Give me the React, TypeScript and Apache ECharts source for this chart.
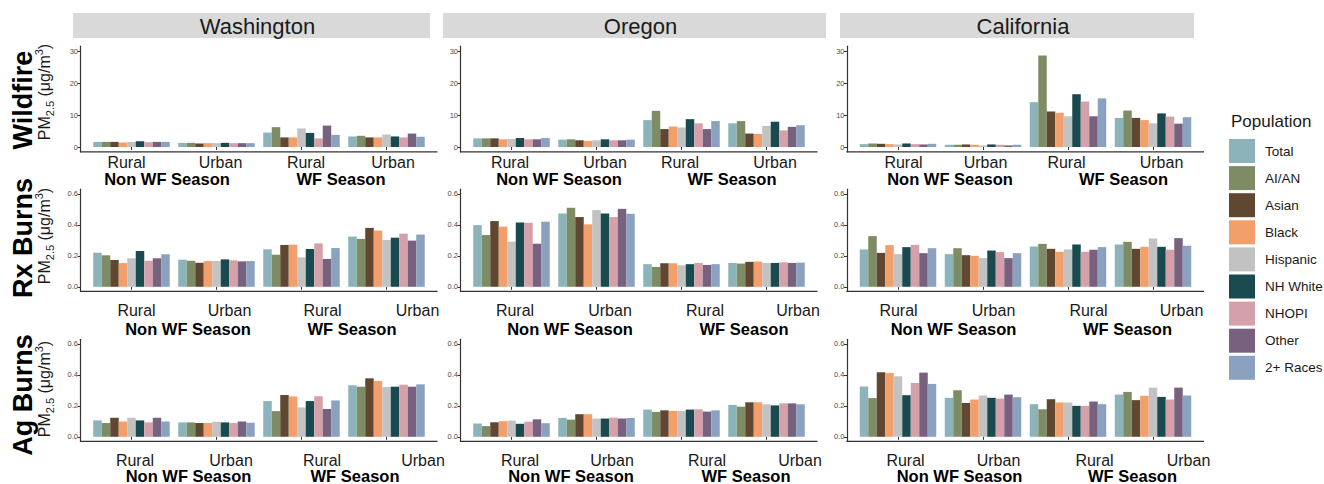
import React, { useEffect, useRef } from "react";
import * as echarts from "echarts";

const FONT = "'Liberation Sans', Arial, Helvetica, sans-serif";

// Facets
const states = ["Washington", "Oregon", "California"];
const sources = ["Wildfire", "Rx Burns", "Ag Burns"];
const groups = ["Rural", "Urban", "Rural", "Urban"];
const seasons = ["Non WF Season", "WF Season"];
const populations = ["Total", "AI/AN", "Asian", "Black", "Hispanic", "NH White", "NHOPI", "Other", "2+ Races"];
const popColors = ["#8db3ba", "#7e8c66", "#5f4731", "#f29f6c", "#c2c2c2", "#184a4f", "#d4a1aa", "#78607f", "#8aa1bf"];

const wildfireTicks = [0, 10, 20, 30];
const burnTicks = [0, 0.2, 0.4, 0.6];

// PM2.5 (µg/m3); each row is one population: [Rural Non WF, Urban Non WF, Rural WF, Urban WF]
const wildfireWashington = [
  [1.6, 1.3, 4.5, 3.3], [1.6, 1.3, 6.2, 3.5], [1.6, 1.1, 3.0, 3.0], [1.4, 1.2, 3.0, 3.0], [1.6, 1.2, 5.8, 3.9],
  [1.8, 1.3, 4.4, 3.3], [1.5, 1.2, 2.7, 3.0], [1.6, 1.2, 6.7, 4.2], [1.6, 1.2, 3.8, 3.2],
];
const wildfireOregon = [
  [2.7, 2.3, 8.4, 7.4], [2.7, 2.4, 11.3, 8.1], [2.7, 2.1, 5.6, 4.2], [2.4, 1.9, 6.4, 4.1], [2.5, 2.1, 6.1, 6.6],
  [2.8, 2.4, 8.7, 7.9], [2.4, 2.1, 7.4, 5.2], [2.4, 2.1, 5.6, 6.3], [2.8, 2.3, 8.1, 6.8],
];
const wildfireCalifornia = [
  [0.9, 0.7, 14.0, 9.1], [1.1, 0.7, 28.6, 11.4], [1.0, 0.8, 11.1, 9.1], [0.9, 0.7, 10.7, 8.4], [0.8, 0.5, 9.6, 7.4],
  [1.1, 0.8, 16.5, 10.5], [0.9, 0.7, 14.2, 9.5], [0.8, 0.5, 9.6, 7.3], [1.0, 0.7, 15.2, 9.3],
];
const rxWashington = [
  [0.22, 0.175, 0.242, 0.324], [0.203, 0.168, 0.207, 0.309], [0.173, 0.155, 0.27, 0.38], [0.153, 0.166, 0.272, 0.363],
  [0.184, 0.166, 0.19, 0.302], [0.231, 0.177, 0.244, 0.317], [0.168, 0.171, 0.28, 0.343], [0.184, 0.164, 0.18, 0.298],
  [0.21, 0.166, 0.25, 0.337],
];
const rxOregon = [
  [0.398, 0.473, 0.146, 0.154], [0.334, 0.51, 0.128, 0.15], [0.424, 0.45, 0.152, 0.161], [0.388, 0.403, 0.152, 0.163],
  [0.291, 0.495, 0.139, 0.154], [0.415, 0.473, 0.146, 0.154], [0.413, 0.45, 0.154, 0.158], [0.278, 0.503, 0.141, 0.154],
  [0.42, 0.471, 0.146, 0.156],
];
const rxCalifornia = [
  [0.241, 0.211, 0.26, 0.273], [0.327, 0.249, 0.277, 0.29], [0.219, 0.204, 0.245, 0.245], [0.269, 0.2, 0.226, 0.258],
  [0.211, 0.185, 0.241, 0.312], [0.256, 0.234, 0.273, 0.258], [0.271, 0.224, 0.226, 0.239], [0.217, 0.185, 0.239, 0.314],
  [0.249, 0.217, 0.256, 0.265],
];
const agWashington = [
  [0.106, 0.093, 0.231, 0.333], [0.089, 0.093, 0.166, 0.324], [0.123, 0.089, 0.27, 0.378], [0.099, 0.089, 0.261, 0.361],
  [0.123, 0.097, 0.19, 0.322], [0.106, 0.093, 0.231, 0.324], [0.093, 0.089, 0.262, 0.337], [0.123, 0.099, 0.18, 0.324],
  [0.099, 0.091, 0.235, 0.339],
];
const agOregon = [
  [0.086, 0.122, 0.176, 0.206], [0.069, 0.111, 0.161, 0.195], [0.094, 0.146, 0.171, 0.223], [0.101, 0.146, 0.167, 0.223],
  [0.105, 0.118, 0.167, 0.21], [0.084, 0.118, 0.176, 0.203], [0.098, 0.124, 0.178, 0.216], [0.113, 0.118, 0.163, 0.216],
  [0.088, 0.122, 0.171, 0.21],
];
const agCalifornia = [
  [0.325, 0.252, 0.211, 0.273], [0.25, 0.301, 0.178, 0.29], [0.417, 0.219, 0.243, 0.237], [0.413, 0.241, 0.222, 0.265],
  [0.391, 0.267, 0.222, 0.318], [0.269, 0.252, 0.2, 0.258], [0.348, 0.247, 0.2, 0.241], [0.415, 0.273, 0.228, 0.318],
  [0.342, 0.256, 0.211, 0.267],
];

const panelData = [
  [wildfireWashington, wildfireOregon, wildfireCalifornia],
  [rxWashington, rxOregon, rxCalifornia],
  [agWashington, agOregon, agCalifornia],
];

// ---- layout ----
const axisLeft = [80.5, 460.5, 847]; // x of each column's y-axis line
const band = 85; // width of one category slot
const expand = 0.6; // discrete axis padding, in slots
const rowScale = [
  { ticks: wildfireTicks, min: -1.5, max: 31.5, zeroY: 147, pxPerUnit: 3.2, digits: 0 },
  { ticks: burnTicks, min: -0.03, max: 0.63, zeroY: 286.8, pxPerUnit: 155, digits: 1 },
  { ticks: burnTicks, min: -0.03, max: 0.63, zeroY: 436.8, pxPerUnit: 154.7, digits: 1 },
];
// label placement relative to each group's centre
const groupLabelDx = [
  [[-5, 4, 4.5, 6.5], [-1.5, 8.5, -1.5, 8.5], [5.5, 2.5, -1.5, 8.5]],
  [[5, 13, 21, 31], [3.5, 13.5, 23.5, 31.5], [0.5, 10.5, 20.5, 28.5]],
  [[3.5, 14.5, 20.5, 36.5], [8.5, 15.5, 25.5, 33.5], [7.5, 15.5, 26.5, 35.5]],
];
const seasonDx = [
  [[35.5, 209.5], [47.5, 220.5], [52, 225.5]],
  [[56.5, 220.5], [58.5, 232.5], [55.5, 229.5]],
  [[57, 223.5], [59.5, 234.5], [61.5, 234.5]],
];
const groupLabelY = [162, 310, 460];
const seasonLabelY = [179, 328.5, 475.8];
const strips = [
  { x0: 73, x1: 430 },
  { x0: 443, x1: 826 },
  { x0: 840, x1: 1194 },
];
const rowTitleY = [100, 238, 395];
const unitLabelY = [92, 236, 389];

function buildOption() {
  const grid: any[] = [];
  const xAxis: any[] = [];
  const yAxis: any[] = [];
  const series: any[] = [];
  const graphic: any[] = [];
  // from the first group's centre minus padding to the last group's centre plus padding
  const fullAxis = band * (groups.length - 1 + 2 * expand);

  for (let r = 0; r < 3; r++) {
    const sc = rowScale[r];
    const top = sc.zeroY - sc.max * sc.pxPerUnit;
    const height = (sc.max - sc.min) * sc.pxPerUnit;
    for (let c = 0; c < 3; c++) {
      const idx = r * 3 + c;
      const L = axisLeft[c];
      const gridLeft = L + band * (expand - 0.5);
      grid.push({ left: gridLeft, top, width: band * groups.length, height, containLabel: false });
      xAxis.push({
        type: "category",
        gridIndex: idx,
        data: groups,
        axisLine: { show: false },
        axisTick: { show: true, alignWithLabel: true, length: 3, lineStyle: { color: "#333", width: 1 } },
        axisLabel: { show: false },
        splitLine: { show: false },
      });
      yAxis.push({
        type: "value",
        gridIndex: idx,
        min: sc.min,
        max: sc.max,
        offset: band * (expand - 0.5),
        axisLine: { show: true, lineStyle: { color: "#333", width: 1.2 } },
        axisTick: { show: true, length: 3, customValues: sc.ticks, lineStyle: { color: "#333", width: 1 } },
        axisLabel: {
          customValues: sc.ticks,
          formatter: (v: number) => v.toFixed(sc.digits),
          fontSize: 7.5,
          color: "#4d4d4d",
          fontFamily: FONT,
          margin: 2.5,
        },
        splitLine: { show: false },
      });
      const data = panelData[r][c];
      populations.forEach((p, i) => {
        series.push({
          type: "bar",
          name: p,
          xAxisIndex: idx,
          yAxisIndex: idx,
          data: data[i],
          barGap: "0%",
          barCategoryGap: "10%",
          itemStyle: { color: popColors[i] },
          silent: true,
        });
      });

      // x-axis line spans the padded range
      const bottom = top + height;
      graphic.push({
        type: "line",
        shape: { x1: L - 0.6, y1: bottom, x2: L + fullAxis, y2: bottom },
        style: { stroke: "#333", lineWidth: 1.2 },
        silent: true,
      });
      // group and season labels
      const c1 = gridLeft + band / 2;
      groups.forEach((g, k) => {
        graphic.push({
          type: "text",
          x: c1 + k * band + groupLabelDx[r][c][k],
          y: groupLabelY[r],
          style: { text: g, fontSize: 16, fontFamily: FONT, fill: "#1a1a1a", align: "center", verticalAlign: "middle" },
          silent: true,
        });
      });
      seasons.forEach((s, k) => {
        graphic.push({
          type: "text",
          x: c1 + seasonDx[r][c][k],
          y: seasonLabelY[r],
          style: {
            text: s,
            fontSize: 16.5,
            fontWeight: "bold",
            fontFamily: FONT,
            fill: "#000",
            align: "center",
            verticalAlign: "middle",
          },
          silent: true,
        });
      });
    }
  }

  // facet strips
  states.forEach((s, c) => {
    const st = strips[c];
    graphic.push({
      type: "rect",
      shape: { x: st.x0, y: 13, width: st.x1 - st.x0, height: 25 },
      style: { fill: "#d9d9d9" },
      silent: true,
    });
    graphic.push({
      type: "text",
      x: (st.x0 + st.x1) / 2 + 6,
      y: 26,
      style: { text: s, fontSize: 22, fontFamily: FONT, fill: "#1a1a1a", align: "center", verticalAlign: "middle" },
      silent: true,
    });
  });

  // row titles and unit labels
  sources.forEach((s, r) => {
    graphic.push({
      type: "text",
      x: 23,
      y: rowTitleY[r],
      rotation: Math.PI / 2,
      style: {
        text: s,
        fontSize: 27,
        fontWeight: "bold",
        fontFamily: FONT,
        fill: "#000",
        align: "center",
        verticalAlign: "middle",
      },
      silent: true,
    });
    graphic.push({
      type: "text",
      x: 44,
      y: unitLabelY[r],
      rotation: Math.PI / 2,
      style: {
        text: "{m|PM}{s|2.5}{m| (μg/m}{p|3}{m|)}",
        align: "center",
        verticalAlign: "middle",
        rich: {
          m: { fontSize: 16, lineHeight: 22, fontFamily: FONT, fill: "#1a1a1a" },
          s: { fontSize: 11, lineHeight: 11, verticalAlign: "bottom", fontFamily: FONT, fill: "#1a1a1a" },
          p: { fontSize: 11, lineHeight: 11, verticalAlign: "top", fontFamily: FONT, fill: "#1a1a1a" },
        },
      },
      silent: true,
    });
  });

  graphic.push({
    type: "text",
    x: 1231,
    y: 121,
    style: { text: "Population", fontSize: 17, fontFamily: FONT, fill: "#1a1a1a", align: "left", verticalAlign: "middle" },
    silent: true,
  });

  return {
    animation: false,
    backgroundColor: "#ffffff",
    grid,
    xAxis,
    yAxis,
    series,
    graphic,
    legend: {
      data: populations,
      orient: "vertical",
      left: 1229,
      top: 139,
      padding: 0,
      itemWidth: 26,
      itemHeight: 24,
      itemGap: 3.1,
      icon: "rect",
      selectedMode: false,
      textStyle: { fontSize: 13.5, color: "#1a1a1a", fontFamily: FONT, padding: [0, 0, 0, 5] },
    },
  };
}

export default function App() {
  const ref = useRef<HTMLDivElement>(null);
  useEffect(() => {
    const chart = echarts.init(ref.current!, null, { renderer: "svg" });
    chart.setOption(buildOption() as any);
    return () => chart.dispose();
  }, []);
  return (
    <div
      ref={ref}
      style={{ position: "fixed", left: 0, top: 0, width: 1324, height: 484, background: "#fff" }}
    />
  );
}
